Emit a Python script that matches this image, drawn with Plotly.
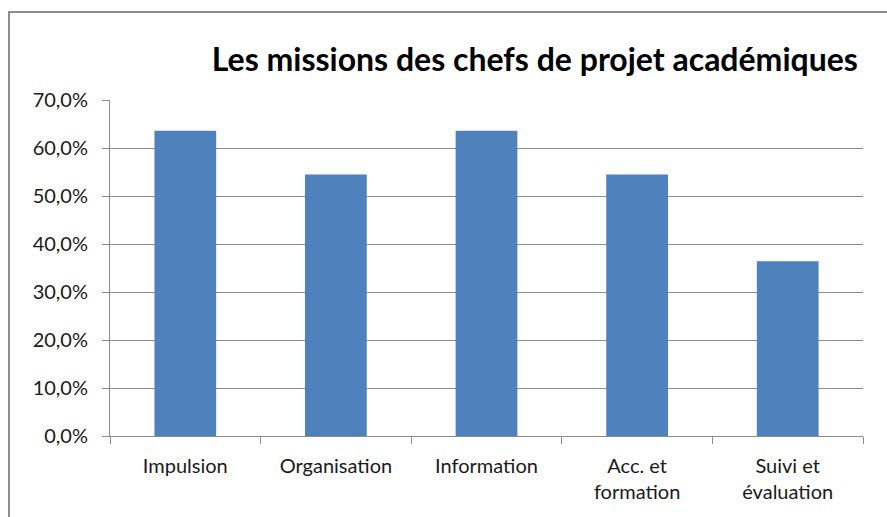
import plotly.graph_objects as go

# Chart data
categories = ["Impulsion", "Organisation", "Information", "Acc. et<br>formation", "Suivi et<br>évaluation"]
shares = [63.6, 54.5, 63.6, 54.5, 36.4]
y_ticks = [0, 10, 20, 30, 40, 50, 60, 70]
y_tick_text = [f"{v:.1f}%".replace(".", ",") for v in y_ticks]

TITLE = "Les missions des chefs de projet académiques"
BAR_COLOR = "#4F81BD"
GRID_COLOR = "#8C8C8C"

fig = go.Figure(go.Bar(
    x=categories,
    y=shares,
    marker=dict(color=BAR_COLOR, line=dict(width=0)),
    width=0.41,
))

fig.update_layout(
    width=887,
    height=517,
    margin=dict(l=110, r=24, t=100, b=81),
    paper_bgcolor="white",
    plot_bgcolor="white",
    showlegend=False,
    font=dict(family="Lato, sans-serif", size=20, color="#1a1a1a"),
    title=dict(
        text="<b>" + TITLE + "</b>",
        x=0.603, xanchor="center",
        y=0.885, yanchor="middle",
        font=dict(family="Lato, sans-serif", size=32, color="#000000"),
    ),
)

fig.update_yaxes(
    range=[0, 70],
    tickvals=y_ticks,
    ticktext=y_tick_text,
    showgrid=True,
    gridcolor=GRID_COLOR,
    gridwidth=1,
    showline=True,
    linecolor=GRID_COLOR,
    linewidth=1,
    ticks="outside",
    ticklen=7,
    tickcolor=GRID_COLOR,
    ticklabelstandoff=10,
    zeroline=False,
    fixedrange=True,
)

fig.update_xaxes(
    showline=True,
    linecolor=GRID_COLOR,
    linewidth=1,
    ticks="outside",
    ticklen=7,
    tickcolor=GRID_COLOR,
    tickson="boundaries",
    ticklabelstandoff=12,
    fixedrange=True,
)

# outer chart frame
fig.add_shape(
    type="rect", xref="paper", yref="paper",
    x0=-0.1341, x1=1.2, y0=-0.5, y1=1.2619,
    line=dict(color="#8C8C8C", width=2),
    fillcolor="rgba(0,0,0,0)",
    layer="below",
)

fig.write_html(
    "out.html",
    config={"displayModeBar": False},
    post_script="document.body.style.margin='0';",
)
